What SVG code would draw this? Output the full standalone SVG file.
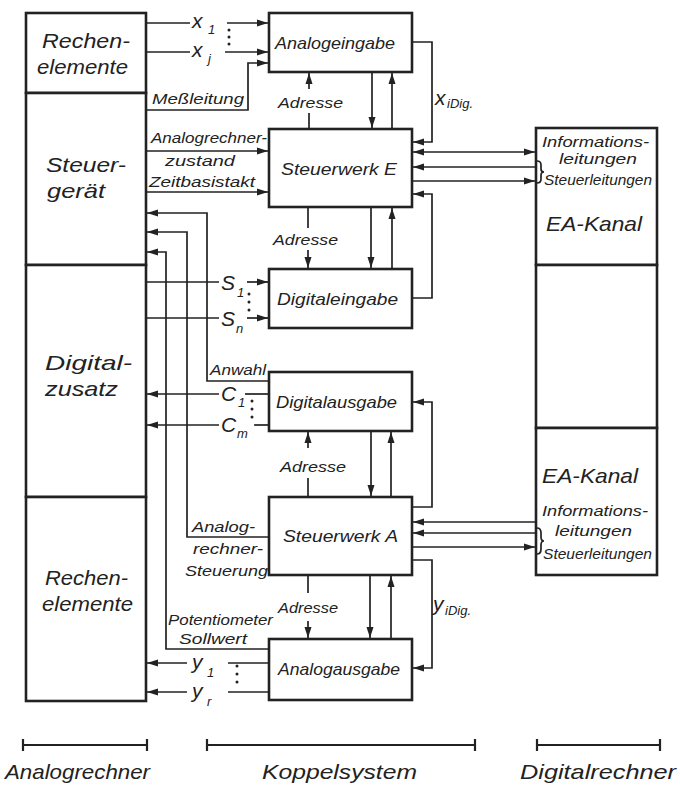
<svg xmlns="http://www.w3.org/2000/svg" width="680" height="785" viewBox="0 0 680 785">
<style>
.box{fill:#fff;stroke:#222;stroke-width:2.6}
.ln{fill:none;stroke:#222;stroke-width:1.7}
.ar{fill:none;stroke:#222;stroke-width:1.7;marker-end:url(#ah)}
.da{fill:none;stroke:#222;stroke-width:1.7;marker-end:url(#ah);marker-start:url(#ahs)}
.bar{fill:none;stroke:#222;stroke-width:2.2}
text{font-family:"Liberation Sans",Arial,sans-serif;font-style:italic;fill:#222}
.big{font-size:21px}
.mid{font-size:17px}
.sm{font-size:14.5px}
.var{font-size:21px}
.sub{font-size:13px}
.dot{fill:#222}
</style>
<defs>
<marker id="ah" markerUnits="userSpaceOnUse" markerWidth="12" markerHeight="8" refX="11" refY="4" orient="auto"><path d="M0,0.5 L11,4 L0,7.5 z" fill="#222"/></marker>
<marker id="ahs" markerUnits="userSpaceOnUse" markerWidth="12" markerHeight="8" refX="0" refY="4" orient="auto"><path d="M11,0.5 L0,4 L11,7.5 z" fill="#222"/></marker>
</defs>

<!-- Analogrechner column -->
<g id="rechenelemente-oben"><rect class="box" x="26" y="13" width="120" height="80"/>
<text class="big" x="42" y="48" textLength="88" lengthAdjust="spacingAndGlyphs">Rechen-</text>
<text class="big" x="37" y="74" textLength="91" lengthAdjust="spacingAndGlyphs">elemente</text></g>
<g id="steuergeraet"><rect class="box" x="26" y="93" width="120" height="172"/>
<text class="big" x="46" y="172" textLength="80" lengthAdjust="spacingAndGlyphs">Steuer-</text>
<text class="big" x="47" y="198" textLength="58" lengthAdjust="spacingAndGlyphs">gerät</text></g>
<g id="digitalzusatz"><rect class="box" x="26" y="265" width="120" height="232"/>
<text class="big" x="45" y="370" textLength="87" lengthAdjust="spacingAndGlyphs">Digital-</text>
<text class="big" x="45" y="396" textLength="73" lengthAdjust="spacingAndGlyphs">zusatz</text></g>
<g id="rechenelemente-unten"><rect class="box" x="26" y="497" width="120" height="204"/>
<text class="big" x="45" y="585" textLength="83" lengthAdjust="spacingAndGlyphs">Rechen-</text>
<text class="big" x="42" y="611" textLength="91" lengthAdjust="spacingAndGlyphs">elemente</text></g>

<!-- Koppelsystem boxes -->
<g id="analogeingabe"><rect class="box" x="269" y="13" width="143" height="59"/>
<text class="mid" x="275" y="49" textLength="120" lengthAdjust="spacingAndGlyphs">Analogeingabe</text></g>
<g id="steuerwerk-e"><rect class="box" x="269" y="129" width="143" height="78"/>
<text class="mid" x="281" y="175" textLength="116" lengthAdjust="spacingAndGlyphs">Steuerwerk E</text></g>
<g id="digitaleingabe"><rect class="box" x="269" y="269" width="143" height="59"/>
<text class="mid" x="277" y="305" textLength="121" lengthAdjust="spacingAndGlyphs">Digitaleingabe</text></g>
<g id="digitalausgabe"><rect class="box" x="269" y="372" width="143" height="59"/>
<text class="mid" x="276" y="408" textLength="121" lengthAdjust="spacingAndGlyphs">Digitalausgabe</text></g>
<g id="steuerwerk-a"><rect class="box" x="269" y="497" width="143" height="78"/>
<text class="mid" x="283" y="542" textLength="115" lengthAdjust="spacingAndGlyphs">Steuerwerk A</text></g>
<g id="analogausgabe"><rect class="box" x="269" y="639" width="143" height="61"/>
<text class="mid" x="278" y="675" textLength="122" lengthAdjust="spacingAndGlyphs">Analogausgabe</text></g>

<!-- Digitalrechner column -->
<g id="ea-kanal-oben"><rect class="box" x="536" y="128" width="121" height="137"/>
<text class="sm" x="542" y="147" textLength="107" lengthAdjust="spacingAndGlyphs">Informations-</text>
<text class="sm" x="559" y="164" textLength="78" lengthAdjust="spacingAndGlyphs">leitungen</text>
<text class="sm" x="544" y="185" textLength="108" lengthAdjust="spacingAndGlyphs">Steuerleitungen</text>
<text class="big" x="546" y="231" textLength="96" lengthAdjust="spacingAndGlyphs">EA-Kanal</text></g>
<g id="ea-mitte"><rect class="box" x="536" y="265" width="121" height="163"/></g>
<g id="ea-kanal-unten"><rect class="box" x="536" y="428" width="121" height="147"/>
<text class="big" x="542" y="483" textLength="96" lengthAdjust="spacingAndGlyphs">EA-Kanal</text>
<text class="sm" x="542" y="516" textLength="106" lengthAdjust="spacingAndGlyphs">Informations-</text>
<text class="sm" x="555" y="536" textLength="77" lengthAdjust="spacingAndGlyphs">leitungen</text>
<text class="sm" x="543" y="559" textLength="109" lengthAdjust="spacingAndGlyphs">Steuerleitungen</text></g>

<!-- connectors -->
<g id="connectors">
<line class="ln" x1="147" y1="23" x2="190" y2="23"/>
<line class="ar" x1="227" y1="23" x2="268" y2="23"/>
<line class="ln" x1="147" y1="52" x2="190" y2="52"/>
<line class="ar" x1="225" y1="52" x2="268" y2="52"/>
<polyline class="ar" points="147,110 248,110 248,63 268,63"/>
<line class="ln" x1="309" y1="129" x2="309" y2="113"/>
<line class="ar" x1="309" y1="89" x2="309" y2="73"/>
<line class="ar" x1="372" y1="73" x2="372" y2="128"/>
<line class="ar" x1="392" y1="129" x2="392" y2="73"/>
<polyline class="ar" points="413,42 432,42 432,142 413,142"/>
<line class="da" x1="413" y1="152" x2="535" y2="152"/>
<line class="ar" x1="536" y1="167" x2="413" y2="167"/>
<line class="ar" x1="413" y1="181" x2="535" y2="181"/>
<polyline class="ar" points="413,298 432,298 432,194 413,194"/>
<path class="ln" d="M537,161 q4,0 4,4 v4 q0,3 3,3 q-3,0 -3,3 v4 q0,4 -4,4"/>
<line class="ar" x1="147" y1="151" x2="268" y2="151"/>
<line class="ar" x1="147" y1="192" x2="268" y2="192"/>
<line class="ln" x1="308" y1="207" x2="308" y2="228"/>
<line class="ar" x1="308" y1="250" x2="308" y2="268"/>
<line class="ar" x1="371" y1="207" x2="371" y2="268"/>
<line class="ar" x1="392" y1="269" x2="392" y2="208"/>
<polyline class="ar" points="269,381 207,381 207,213 147,213"/>
<polyline class="ar" points="269,537 187,537 187,232 147,232"/>
<polyline class="ar" points="269,649 166,649 166,252 147,252"/>
<line class="ln" x1="147" y1="282" x2="219" y2="282"/>
<line class="ar" x1="247" y1="282" x2="268" y2="282"/>
<line class="ln" x1="147" y1="318" x2="219" y2="318"/>
<line class="ar" x1="247" y1="318" x2="268" y2="318"/>
<line class="ln" x1="269" y1="394" x2="245" y2="394"/>
<line class="ar" x1="219" y1="394" x2="147" y2="394"/>
<line class="ln" x1="269" y1="425" x2="254" y2="425"/>
<line class="ar" x1="219" y1="425" x2="147" y2="425"/>
<line class="ln" x1="308" y1="497" x2="308" y2="478"/>
<line class="ar" x1="308" y1="448" x2="308" y2="432"/>
<line class="ar" x1="371" y1="431" x2="371" y2="496"/>
<line class="ar" x1="391" y1="497" x2="391" y2="432"/>
<polyline class="ar" points="413,507 432,507 432,402 413,402"/>
<line class="ar" x1="536" y1="522" x2="413" y2="522"/>
<line class="ar" x1="536" y1="533" x2="413" y2="533"/>
<line class="ar" x1="413" y1="547" x2="535" y2="547"/>
<path class="ln" d="M537,528 q4,0 4,5 v4 q0,4 3,4 q-3,0 -3,4 v4 q0,5 -4,5"/>
<polyline class="ar" points="413,560 432,560 432,668 413,668"/>
<line class="ln" x1="308" y1="575" x2="308" y2="593"/>
<line class="ar" x1="308" y1="621" x2="308" y2="638"/>
<line class="ar" x1="370" y1="575" x2="370" y2="638"/>
<line class="ar" x1="391" y1="639" x2="391" y2="576"/>
<line class="ln" x1="269" y1="663" x2="228" y2="663"/>
<line class="ar" x1="187" y1="663" x2="147" y2="663"/>
<line class="ln" x1="269" y1="692" x2="228" y2="692"/>
<line class="ar" x1="187" y1="692" x2="147" y2="692"/>
</g>

<g id="dots">
<circle class="dot" cx="229" cy="30" r="1.5"/><circle class="dot" cx="229" cy="37" r="1.5"/><circle class="dot" cx="229" cy="44" r="1.5"/>
<circle class="dot" cx="249" cy="294" r="1.5"/><circle class="dot" cx="249" cy="302" r="1.5"/><circle class="dot" cx="249" cy="310" r="1.5"/>
<circle class="dot" cx="252" cy="401" r="1.5"/><circle class="dot" cx="252" cy="409" r="1.5"/><circle class="dot" cx="252" cy="417" r="1.5"/>
<circle class="dot" cx="237" cy="666" r="1.5"/><circle class="dot" cx="237" cy="674" r="1.5"/><circle class="dot" cx="237" cy="682" r="1.5"/>
</g>

<g id="labels">
<text class="var" x="192" y="28">x</text><text class="sub" x="208" y="34">1</text>
<text class="var" x="192" y="57">x</text><text class="sub" x="208" y="63">j</text>
<text class="sm" x="152" y="104" textLength="92" lengthAdjust="spacingAndGlyphs">Meßleitung</text>
<text class="sm" x="278" y="108" textLength="65" lengthAdjust="spacingAndGlyphs">Adresse</text>
<text class="var" x="435" y="105">x</text><text class="sub" x="447" y="108">iDig.</text>
<text class="sm" x="151" y="143" textLength="116" lengthAdjust="spacingAndGlyphs">Analogrechner-</text>
<text class="sm" x="165" y="166" textLength="70" lengthAdjust="spacingAndGlyphs">zustand</text>
<text class="sm" x="149" y="187" textLength="106" lengthAdjust="spacingAndGlyphs">Zeitbasistakt</text>
<text class="sm" x="273" y="245" textLength="65" lengthAdjust="spacingAndGlyphs">Adresse</text>
<text class="var" x="221" y="290">S</text><text class="sub" x="237" y="297">1</text>
<text class="var" x="221" y="326">S</text><text class="sub" x="236" y="333">n</text>
<text class="sm" x="210" y="375" textLength="56" lengthAdjust="spacingAndGlyphs">Anwahl</text>
<text class="var" x="221" y="401">C</text><text class="sub" x="238" y="407">1</text>
<text class="var" x="221" y="432">C</text><text class="sub" x="237" y="438">m</text>
<text class="sm" x="280" y="472" textLength="66" lengthAdjust="spacingAndGlyphs">Adresse</text>
<text class="sm" x="192" y="532" textLength="63" lengthAdjust="spacingAndGlyphs">Analog-</text>
<text class="sm" x="193" y="554" textLength="70" lengthAdjust="spacingAndGlyphs">rechner-</text>
<text class="sm" x="185" y="576" textLength="83" lengthAdjust="spacingAndGlyphs">Steuerung</text>
<text class="var" x="433" y="611">y</text><text class="sub" x="445" y="615">iDig.</text>
<text class="sm" x="278" y="613" textLength="60" lengthAdjust="spacingAndGlyphs">Adresse</text>
<text class="sm" x="168" y="625" textLength="105" lengthAdjust="spacingAndGlyphs">Potentiometer</text>
<text class="sm" x="179" y="644" textLength="68" lengthAdjust="spacingAndGlyphs">Sollwert</text>
<text class="var" x="192" y="669">y</text><text class="sub" x="207" y="677">1</text>
<text class="var" x="192" y="698">y</text><text class="sub" x="207" y="706">r</text>
</g>

<g id="legend">
<path class="bar" d="M23,745 H147 M23,739 V751 M147,739 V751"/>
<path class="bar" d="M207,745 H475 M207,739 V751 M475,739 V751"/>
<path class="bar" d="M537,745 H660 M537,739 V751 M660,739 V751"/>
<text class="big" x="5" y="779" textLength="145" lengthAdjust="spacingAndGlyphs">Analogrechner</text>
<text class="big" x="262" y="779" textLength="155" lengthAdjust="spacingAndGlyphs">Koppelsystem</text>
<text class="big" x="520" y="779" textLength="156" lengthAdjust="spacingAndGlyphs">Digitalrechner</text>
</g>
</svg>
